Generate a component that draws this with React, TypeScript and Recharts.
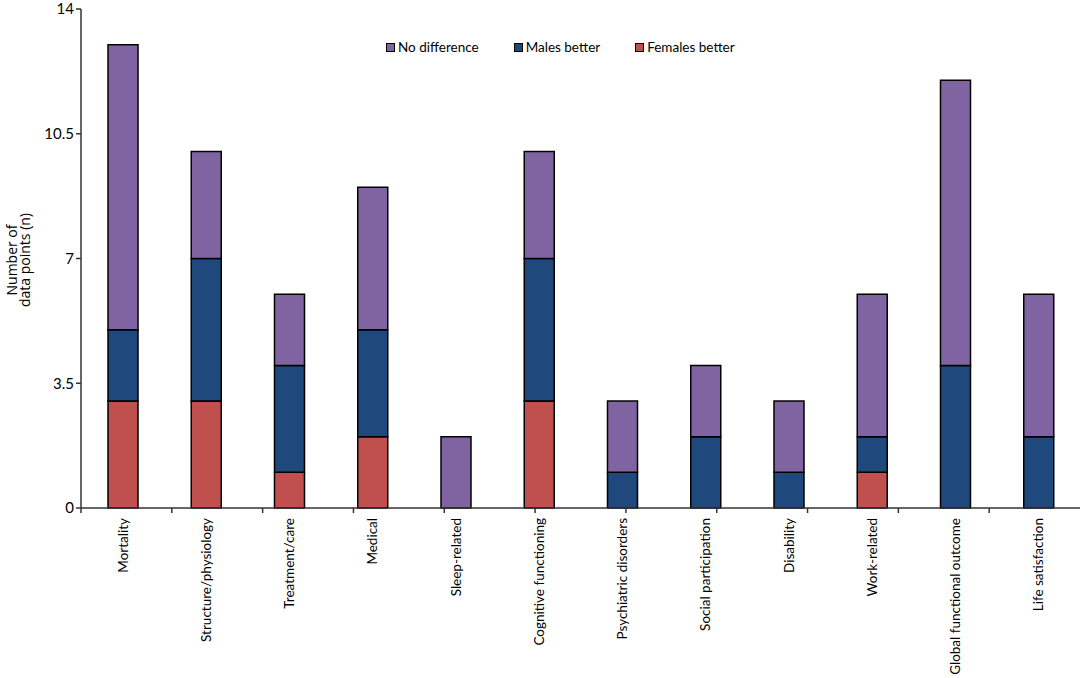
import React from 'react';
import { BarChart, Bar, XAxis, YAxis } from 'recharts';

const categories = [
  'Mortality',
  'Structure/physiology',
  'Treatment/care',
  'Medical',
  'Sleep-related',
  'Cognitive functioning',
  'Psychiatric disorders',
  'Social participation',
  'Disability',
  'Work-related',
  'Global functional outcome',
  'Life satisfaction',
];
const femalesBetter = [3, 3, 1, 2, 0, 3, 0, 0, 0, 1, 0, 0];
const malesBetter = [2, 4, 3, 3, 0, 4, 1, 2, 1, 1, 4, 2];
const noDifference = [8, 3, 2, 4, 2, 3, 2, 2, 2, 4, 8, 4];
const yTicks = [0, 3.5, 7, 10.5, 14];
const boundaryTicks = [0, 1, 2, 3, 4, 5, 6, 7, 8, 9, 10, 11, 12];

const seriesInfo = [
  { key: 'nd', name: 'No difference', color: '#8064A2' },
  { key: 'mb', name: 'Males better', color: '#1F497D' },
  { key: 'fb', name: 'Females better', color: '#C0504D' },
];

const data = categories.map((c, i) => ({
  name: c,
  fb: femalesBetter[i],
  mb: malesBetter[i],
  nd: noDifference[i],
}));

const FONT = 'Lato, "Noto Sans", sans-serif';

const CatTick = (props: any) => {
  const { x, y, payload } = props;
  return (
    <text
      x={x}
      y={y}
      transform={`rotate(-90, ${x}, ${y})`}
      textAnchor="end"
      dominantBaseline="central"
      fontFamily={FONT}
      fontSize={13.5}
      fill="#000"
      dx={-1}
    >
      {payload.value}
    </text>
  );
};

const LegendBox = () => (
  <div
    style={{
      position: 'absolute',
      top: 38,
      left: 386,
      display: 'flex',
      fontFamily: FONT,
      fontSize: 13.5,
      color: '#000',
      lineHeight: '18px',
    }}
  >
    {seriesInfo.map((s, i) => (
      <div key={s.key} style={{ display: 'flex', alignItems: 'center', marginRight: i < 2 ? 35 : 0 }}>
        <span
          style={{
            display: 'inline-block',
            width: 7,
            height: 7,
            background: s.color,
            border: '1.5px solid #000',
            marginRight: 3,
          }}
        />
        <span>{s.name}</span>
      </div>
    ))}
  </div>
);

const YLabel = () => (
  <text
    fontFamily='"Open Sans", sans-serif'
    fontSize={14}
    fill="#000"
    textAnchor="middle"
    transform="rotate(-90, 24, 260)"
  >
    <tspan x={24} y={253}>Number of</tspan>
    <tspan x={24} y={266}>data points (n)</tspan>
  </text>
);

export default function App() {
  return (
    <div style={{ position: 'absolute', left: 0, top: 0, width: 1084, height: 678, background: '#fff' }}>
      <BarChart
        width={1084}
        height={678}
        data={data}
        margin={{ top: 9, right: 4, left: 0, bottom: 0 }}
        barCategoryGap={0}
      >
        <XAxis
          xAxisId="bounds"
          type="number"
          domain={[0, 12]}
          ticks={boundaryTicks}
          allowDataOverflow
          height={1}
          tickFormatter={() => ''}
          tickLine={{ stroke: '#333', strokeWidth: 1.5 }}
          tickSize={5}
          axisLine={{ stroke: '#333', strokeWidth: 1.5 }}
        />
        <XAxis
          xAxisId="cat"
          dataKey="name"
          type="category"
          interval={0}
          height={169}
          axisLine={false}
          tickLine={false}
          tick={<CatTick />}
        />
        <YAxis
          width={81}
          domain={[0, 14]}
          ticks={yTicks}
          interval={0}
          tickSize={5}
          tickLine={{ stroke: '#333', strokeWidth: 1.5 }}
          axisLine={{ stroke: '#333', strokeWidth: 1.5 }}
          tick={{ fill: '#000', fontSize: 15, fontFamily: FONT }}
          tickFormatter={(v: number) => String(v)}
          label={<YLabel />}
        />
        <Bar xAxisId="cat" dataKey="fb" name="Females better" stackId="a" fill="#C0504D" stroke="#000" strokeWidth={1.5} barSize={30} isAnimationActive={false} />
        <Bar xAxisId="cat" dataKey="mb" name="Males better" stackId="a" fill="#1F497D" stroke="#000" strokeWidth={1.5} barSize={30} isAnimationActive={false} />
        <Bar xAxisId="cat" dataKey="nd" name="No difference" stackId="a" fill="#8064A2" stroke="#000" strokeWidth={1.5} barSize={30} isAnimationActive={false} />
      </BarChart>
      <LegendBox />
    </div>
  );
}
